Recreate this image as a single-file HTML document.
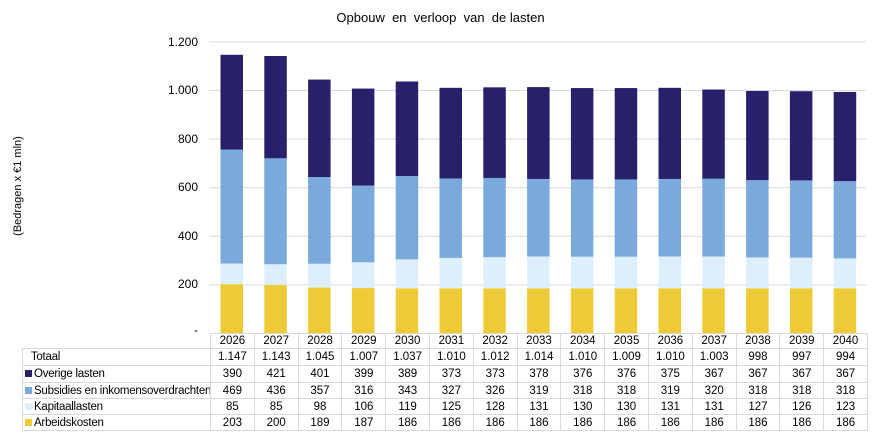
<!DOCTYPE html>
<html><head><meta charset="utf-8"><style>
body{margin:0;background:#fff;font-family:"Liberation Sans",Arial,sans-serif;}
#w{position:relative;width:881px;height:438px;overflow:hidden;}
.t{position:absolute;font-size:12px;color:#000;}
table{position:absolute;left:22px;top:333px;border-collapse:collapse;font-size:11.5px;table-layout:fixed;width:845px;}
td{border:1px solid #d9d9d9;padding:0;text-align:center;height:15px;line-height:14px;white-space:nowrap;overflow:hidden;box-sizing:border-box;}
td.l{text-align:left;padding-left:2px;letter-spacing:-0.25px;}
tr.y td.l{border:none;}
.k{display:inline-block;width:7px;height:7px;margin-right:2px;}
</style></head><body><div id="w">
<div class="t" style="left:0;width:881px;text-align:center;top:10px;font-size:13px;">Opbouw&nbsp; en&nbsp; verloop&nbsp; van&nbsp; de lasten</div>
<div class="t" style="left:-52px;top:180px;width:140px;text-align:center;transform:rotate(-90deg);font-size:11px;">(Bedragen x €1 mln)</div>
<div class="t" style="right:683px;top:35px">1.200</div>
<div class="t" style="right:683px;top:83px">1.000</div>
<div class="t" style="right:683px;top:132px">800</div>
<div class="t" style="right:683px;top:180px">600</div>
<div class="t" style="right:683px;top:229px">400</div>
<div class="t" style="right:683px;top:277px">200</div>
<div class="t" style="right:683px;top:323px">-</div>
<svg id="s" width="881" height="438" style="position:absolute;left:0;top:0"></svg>
<table>
<colgroup><col style="width:188px"><col span="15" style="width:43.8px"></colgroup>
<tr class="y"><td class="l"></td><td>2026</td><td>2027</td><td>2028</td><td>2029</td><td>2030</td><td>2031</td><td>2032</td><td>2033</td><td>2034</td><td>2035</td><td>2036</td><td>2037</td><td>2038</td><td>2039</td><td>2040</td></tr>
<tr style="height:17px"><td class="l">&nbsp;&nbsp;Totaal</td><td>1.147</td><td>1.143</td><td>1.045</td><td>1.007</td><td>1.037</td><td>1.010</td><td>1.012</td><td>1.014</td><td>1.010</td><td>1.009</td><td>1.010</td><td>1.003</td><td>998</td><td>997</td><td>994</td></tr>
<tr style="height:17px"><td class="l"><span class="k" style="background:#28206a"></span>Overige lasten</td><td>390</td><td>421</td><td>401</td><td>399</td><td>389</td><td>373</td><td>373</td><td>378</td><td>376</td><td>376</td><td>375</td><td>367</td><td>367</td><td>367</td><td>367</td></tr>
<tr style="height:16px"><td class="l"><span class="k" style="background:#7aaadc"></span>Subsidies en inkomensoverdrachten</td><td>469</td><td>436</td><td>357</td><td>316</td><td>343</td><td>327</td><td>326</td><td>319</td><td>318</td><td>318</td><td>319</td><td>320</td><td>318</td><td>318</td><td>318</td></tr>
<tr style="height:16px"><td class="l"><span class="k" style="background:#ddeefc"></span>Kapitaallasten</td><td>85</td><td>85</td><td>98</td><td>106</td><td>119</td><td>125</td><td>128</td><td>131</td><td>130</td><td>130</td><td>131</td><td>131</td><td>127</td><td>126</td><td>123</td></tr>
<tr style="height:16px"><td class="l"><span class="k" style="background:#eecb36"></span>Arbeidskosten</td><td>203</td><td>200</td><td>189</td><td>187</td><td>186</td><td>186</td><td>186</td><td>186</td><td>186</td><td>186</td><td>186</td><td>186</td><td>186</td><td>186</td><td>186</td></tr>
</table>
</div>
<script>
var o=[390,421,401,399,389,373,373,378,376,376,375,367,367,367,367],
s=[469,436,357,316,343,327,326,319,318,318,319,320,318,318,318],
k=[85,85,98,106,119,125,128,131,130,130,131,131,127,126,123],
a=[203,200,189,187,186,186,186,186,186,186,186,186,186,186,186];
var h='',y0=333.5,sc=48.6/200;
for(var i=0;i<7;i++){var y=y0-i*48.6;if(i>0)h+='<line x1="209" x2="866" y1="'+y+'" y2="'+y+'" stroke="#d9d9d9"/>';}
var cols=['#eecb36','#ddeefc','#7aaadc','#28206a'];
for(var i=0;i<15;i++){var x=220.5+i*43.8,y=y0;var v=[a[i],k[i],s[i],o[i]];
for(var j=0;j<4;j++){var hh=v[j]*sc;y-=hh;h+='<rect x="'+x+'" y="'+y+'" width="22.5" height="'+hh+'" fill="'+cols[j]+'"/>';}}
document.getElementById('s').innerHTML=h;
</script>
</body></html>
